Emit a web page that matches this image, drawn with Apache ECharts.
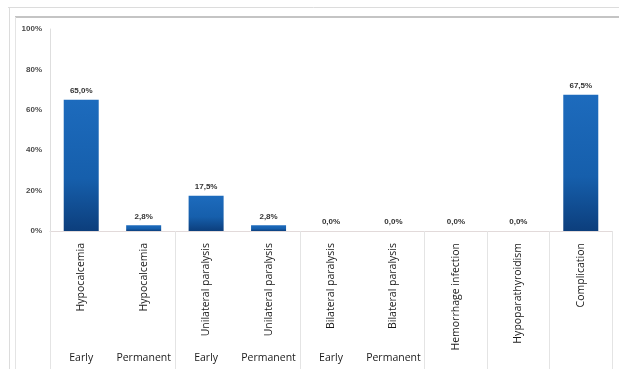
<!DOCTYPE html>
<html>
<head>
<meta charset="utf-8">
<script src="https://cdn.jsdelivr.net/npm/echarts@6/dist/echarts.min.js"></script>
<style>
  html, body { margin: 0; padding: 0; background: #fff; }
  #chart { width: 619px; height: 369px; }
</style>
</head>
<body>
<div id="chart"></div>
<script>
// Complication categories and their stage sub-labels
const categories = [
  'Hypocalcemia', 'Hypocalcemia',
  'Unilateral paralysis', 'Unilateral paralysis',
  'Bilateral paralysis', 'Bilateral paralysis',
  'Hemorrhage infection', 'Hypoparathyroidism', 'Complication'
];
const stages = ['Early', 'Permanent', 'Early', 'Permanent', 'Early', 'Permanent', '', '', ''];
// Percentages per category
const values = [65.0, 2.8, 17.5, 2.8, 0.0, 0.0, 0.0, 0.0, 67.5];
const yTicks = [0, 20, 40, 60, 80, 100];
// Boundaries where a separator line is drawn below the axis
const separatorAt = [0, 2, 4, 6, 7, 8, 9];

const chart = echarts.init(document.getElementById('chart'), null, { renderer: 'canvas' });

const fmtPct = v => v.toFixed(1).replace('.', ',') + '%';

chart.setOption({
  backgroundColor: '#ffffff',
  animation: false,
  grid: { left: 50, right: 7, top: 29, bottom: 138 },
  graphic: [
    { type: 'line', shape: { x1: 8, y1: 7.5, x2: 619, y2: 7.5 }, style: { stroke: '#dcdcdc', lineWidth: 1 } },
    { type: 'line', shape: { x1: 9.5, y1: 7, x2: 9.5, y2: 369 }, style: { stroke: '#dcdcdc', lineWidth: 1 } },
    { type: 'line', shape: { x1: 15, y1: 17, x2: 619, y2: 17 }, style: { stroke: '#c4c4c4', lineWidth: 2 } },
    { type: 'line', shape: { x1: 15.5, y1: 17, x2: 15.5, y2: 369 }, style: { stroke: '#e4e4e4', lineWidth: 1 } }
  ],
  xAxis: [
    {
      type: 'category',
      data: categories,
      axisLine: { show: true, lineStyle: { color: '#e2dada', width: 1 } },
      axisTick: {
        show: true,
        length: 138,
        interval: (idx) => separatorAt.indexOf(idx) !== -1,
        lineStyle: { color: '#e4e4e4', width: 1 }
      },
      axisLabel: {
        rotate: 90,
        interval: 0,
        margin: 12,
        fontFamily: 'Open Sans',
        fontSize: 10.5,
        color: '#1a1a1a'
      }
    },
    {
      type: 'category',
      data: stages,
      position: 'bottom',
      offset: 114,
      axisLine: { show: false },
      axisTick: { show: false },
      axisLabel: {
        interval: 0,
        fontFamily: 'Open Sans',
        fontSize: 10.5,
        color: '#1a1a1a'
      }
    }
  ],
  yAxis: {
    type: 'value',
    min: yTicks[0],
    max: yTicks[yTicks.length - 1],
    interval: 20,
    axisLine: { show: true, lineStyle: { color: '#dedede' } },
    axisTick: { show: false },
    splitLine: { show: false },
    axisLabel: {
      formatter: '{value}%',
      fontFamily: 'Liberation Sans',
      fontWeight: 'bold',
      fontSize: 8,
      color: '#4a4a4a',
      margin: 8
    }
  },
  series: [{
    type: 'bar',
    data: values,
    barWidth: 35,
    itemStyle: {
      color: new echarts.graphic.LinearGradient(0, 0, 0, 1, [
        { offset: 0, color: '#1d6bbd' },
        { offset: 0.6, color: '#165fac' },
        { offset: 1, color: '#0c3e7c' }
      ])
    },
    label: {
      show: true,
      position: 'top',
      distance: 5,
      formatter: p => fmtPct(p.value),
      fontFamily: 'Liberation Sans',
      fontWeight: 'bold',
      fontSize: 8,
      color: '#333'
    }
  }]
});
</script>
</body>
</html>
